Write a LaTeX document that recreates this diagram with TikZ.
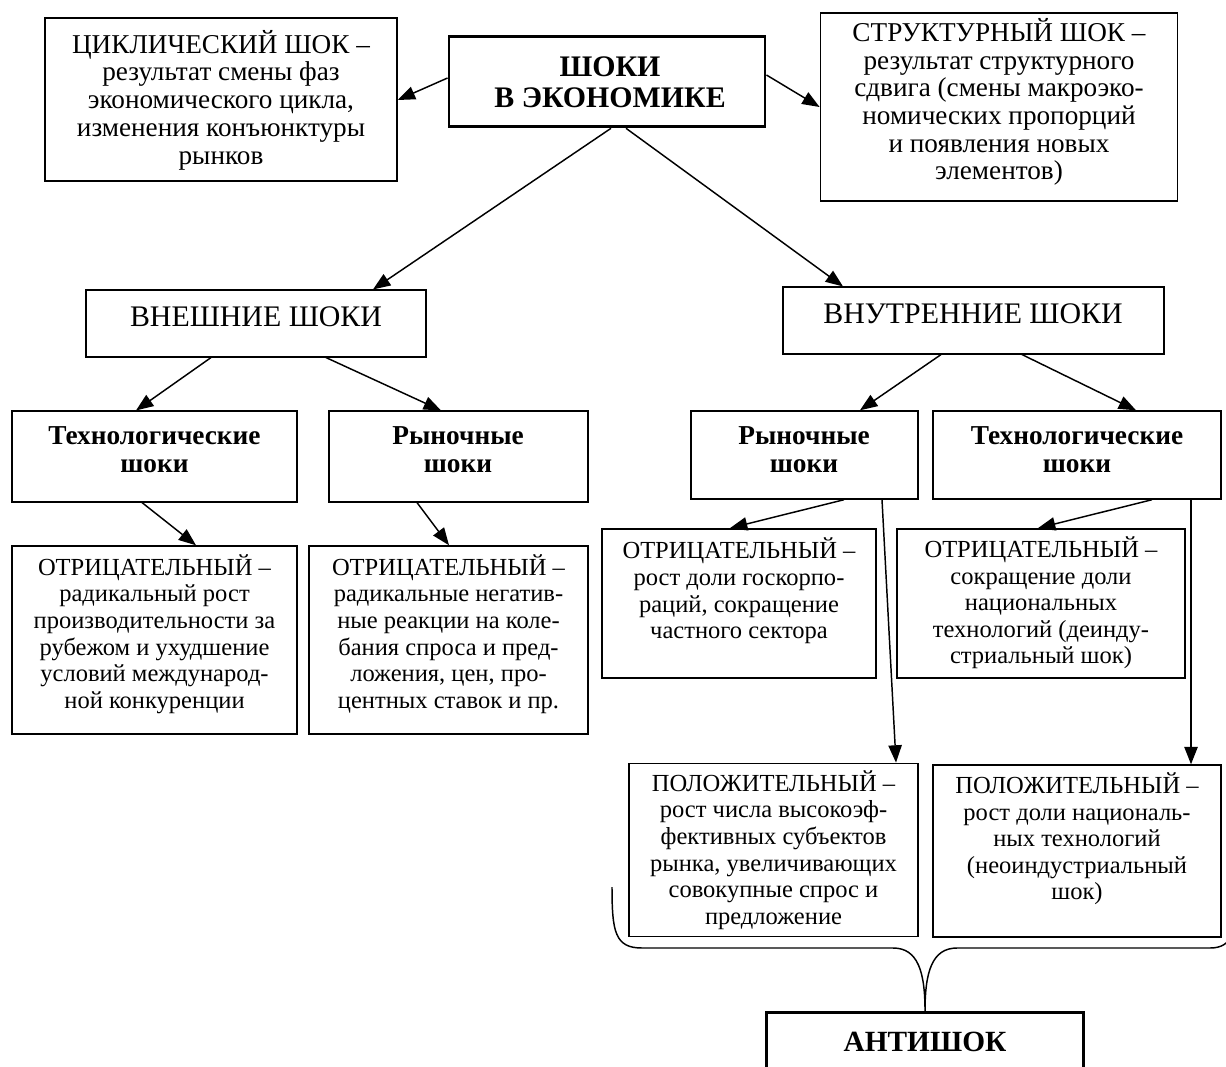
\documentclass[tikz,border=0pt]{standalone}
\usepackage{fontspec}
\setmainfont{Liberation Serif}
\usetikzlibrary{calc,arrows.meta}
\newcommand\topfont{\fontsize{20.4}{20.8}\selectfont}
\newcommand\bodyfont{\fontsize{18.4}{19.9}\selectfont}
\newcommand\headfont{\fontsize{20.5}{21}\selectfont\bfseries}
\begin{document}
\begin{tikzpicture}[x=0.75pt,y=-0.75pt,
  box/.style={draw,line width=1.1pt,rectangle,inner sep=0pt},
  bbox/.style={draw,line width=2.2pt,rectangle,inner sep=0pt},
  txt/.style={align=center,inner sep=0pt,font=\bodyfont},
  ttxt/.style={align=center,inner sep=0pt,font=\topfont},
  htxt/.style={align=center,inner sep=0pt,font=\headfont},
  arr/.style={line width=1.1pt,-{Triangle[length=13pt,width=10pt]}},
  brace/.style={line width=1.1pt}]
\useasboundingbox (0,0) rectangle (1226,1066);
\clip (0,0) rectangle (1226,1066);
% top row
\node[box,minimum width=264pt,minimum height=122pt] (cyc) at (221,99.5) {};
\node[ttxt] at (221,100) {ЦИКЛИЧЕСКИЙ ШОК –\\результат смены фаз\\экономического цикла,\\изменения конъюнктуры\\рынков};
\node[bbox,minimum width=237pt,minimum height=68pt] (main) at (607,81.5) {};
\node[htxt,font=\fontsize{22.4}{23}\selectfont\bfseries] at (610,82) {ШОКИ\\В ЭКОНОМИКЕ};
\node[box,minimum width=268pt,minimum height=141pt] (str) at (999,107) {};
\node[ttxt] at (999,102) {СТРУКТУРНЫЙ ШОК –\\результат структурного\\сдвига (смены макроэко-\\номических пропорций\\и появления новых\\элементов)};
% second row
\node[box,minimum width=255pt,minimum height=50pt] (vnesh) at (256,323.5) {};
\node[txt,font=\fontsize{22.4}{23}\selectfont] at (256,317) {ВНЕШНИЕ ШОКИ};
\node[box,minimum width=286pt,minimum height=50pt] (vnutr) at (973.5,320.5) {};
\node[txt,font=\fontsize{22.4}{23}\selectfont] at (973,314) {ВНУТРЕННИЕ ШОКИ};
% third row
\node[box,minimum width=214pt,minimum height=68pt] (tech1) at (154.5,456.5) {};
\node[htxt] at (154.5,450) {Технологические\\шоки};
\node[box,minimum width=194pt,minimum height=68pt] (ryn1) at (458.5,456.5) {};
\node[htxt] at (458,450) {Рыночные\\шоки};
\node[box,minimum width=170pt,minimum height=66pt] (ryn2) at (804.5,455) {};
\node[htxt] at (804,450) {Рыночные\\шоки};
\node[box,minimum width=216pt,minimum height=66pt] (tech2) at (1077,455) {};
\node[htxt] at (1077,450) {Технологические\\шоки};
% negative boxes
\node[box,minimum width=214pt,minimum height=141pt] (neg1) at (154.5,640) {};
\node[txt] at (154.5,634) {ОТРИЦАТЕЛЬНЫЙ –\\радикальный рост\\производительности за\\рубежом и ухудшение\\условий международ-\\ной конкуренции};
\node[box,minimum width=209pt,minimum height=141pt] (neg2) at (448.5,640) {};
\node[txt] at (448.5,634) {ОТРИЦАТЕЛЬНЫЙ –\\радикальные негатив-\\ные реакции на коле-\\бания спроса и пред-\\ложения, цен, про-\\центных ставок и пр.};
\node[box,minimum width=205.5pt,minimum height=112pt] (neg3) at (739,603.5) {};
\node[txt] at (739,591) {ОТРИЦАТЕЛЬНЫЙ –\\рост доли госкорпо-\\раций, сокращение\\частного сектора};
\node[box,minimum width=216pt,minimum height=112pt] (neg4) at (1041,603.5) {};
\node[txt] at (1041,603) {ОТРИЦАТЕЛЬНЫЙ –\\сокращение доли\\национальных\\технологий (деинду-\\стриальный шок)};
% positive boxes
\node[box,minimum width=217pt,minimum height=130pt] (pos1) at (773.5,850) {};
\node[txt] at (773.5,850) {ПОЛОЖИТЕЛЬНЫЙ –\\рост числа высокоэф-\\фективных субъектов\\рынка, увеличивающих\\совокупные спрос и\\предложение};
\node[box,minimum width=216pt,minimum height=129pt] (pos2) at (1077,851) {};
\node[txt] at (1077,839) {ПОЛОЖИТЕЛЬНЫЙ –\\рост доли националь-\\ных технологий\\(неоиндустриальный\\шок)};
% antishock
\node[bbox,minimum width=238pt,minimum height=70pt,anchor=north] (anti) at (925,1011) {};
\node[htxt,font=\fontsize{22}{24}\selectfont\bfseries] at (925,1042) {АНТИШОК};
% connectors
\draw[arr] ($(main.west)+(0,-3.5)$) -- ($(cyc.east)+(0,0.5)$);
\draw[arr] ($(main.east)+(0,-6.5)$) -- (str.west);
\draw[arr] ($(main.south)+(4,0)$) -- ($(vnesh.north)+(117,0)$);
\draw[arr] ($(main.south)+(19,0)$) -- ($(vnutr.north)+(-130.5,0)$);
\draw[arr] ($(vnesh.south)+(-45,0)$) -- ($(tech1.north)+(-18.5,0)$);
\draw[arr] ($(vnesh.south)+(70,0)$) -- ($(ryn1.north)+(-17.5,0)$);
\draw[arr] ($(vnutr.south)+(-32.5,0)$) -- ($(ryn2.north)+(55.5,0)$);
\draw[arr] ($(vnutr.south)+(48.5,0)$) -- ($(tech2.north)+(59,0)$);
\draw[arr] ($(tech1.south)+(-12.5,0)$) -- ($(neg1.north)+(41.5,0)$);
\draw[arr] ($(ryn1.south)+(-41.5,0)$) -- ($(neg2.north)+(0.5,0)$);
\draw[arr] ($(ryn2.south)+(39.5,0)$) -- ($(neg3.north)+(-9,0)$);
\draw[arr] ($(tech2.south)+(75,0)$) -- ($(neg4.north)+(-3,0)$);
\draw[arr] ($(ryn2.south)+(77.5,0)$) -- ($(pos1.north)+(122.5,0)$);
\draw[arr] ($(tech2.south)+(114,0)$) -- ($(pos2.north)+(114,0)$);
% brace
\draw[brace] (612,887) .. controls (612,932) and (615,948) .. (642,948) -- (893,948)
  .. controls (918,948) and (925,972) .. (anti.north)
  .. controls (925,972) and (932,948) .. (957,948) -- (1210,948)
  .. controls (1233,948) and (1238,930) .. (1238,887);
\end{tikzpicture}
\end{document}
